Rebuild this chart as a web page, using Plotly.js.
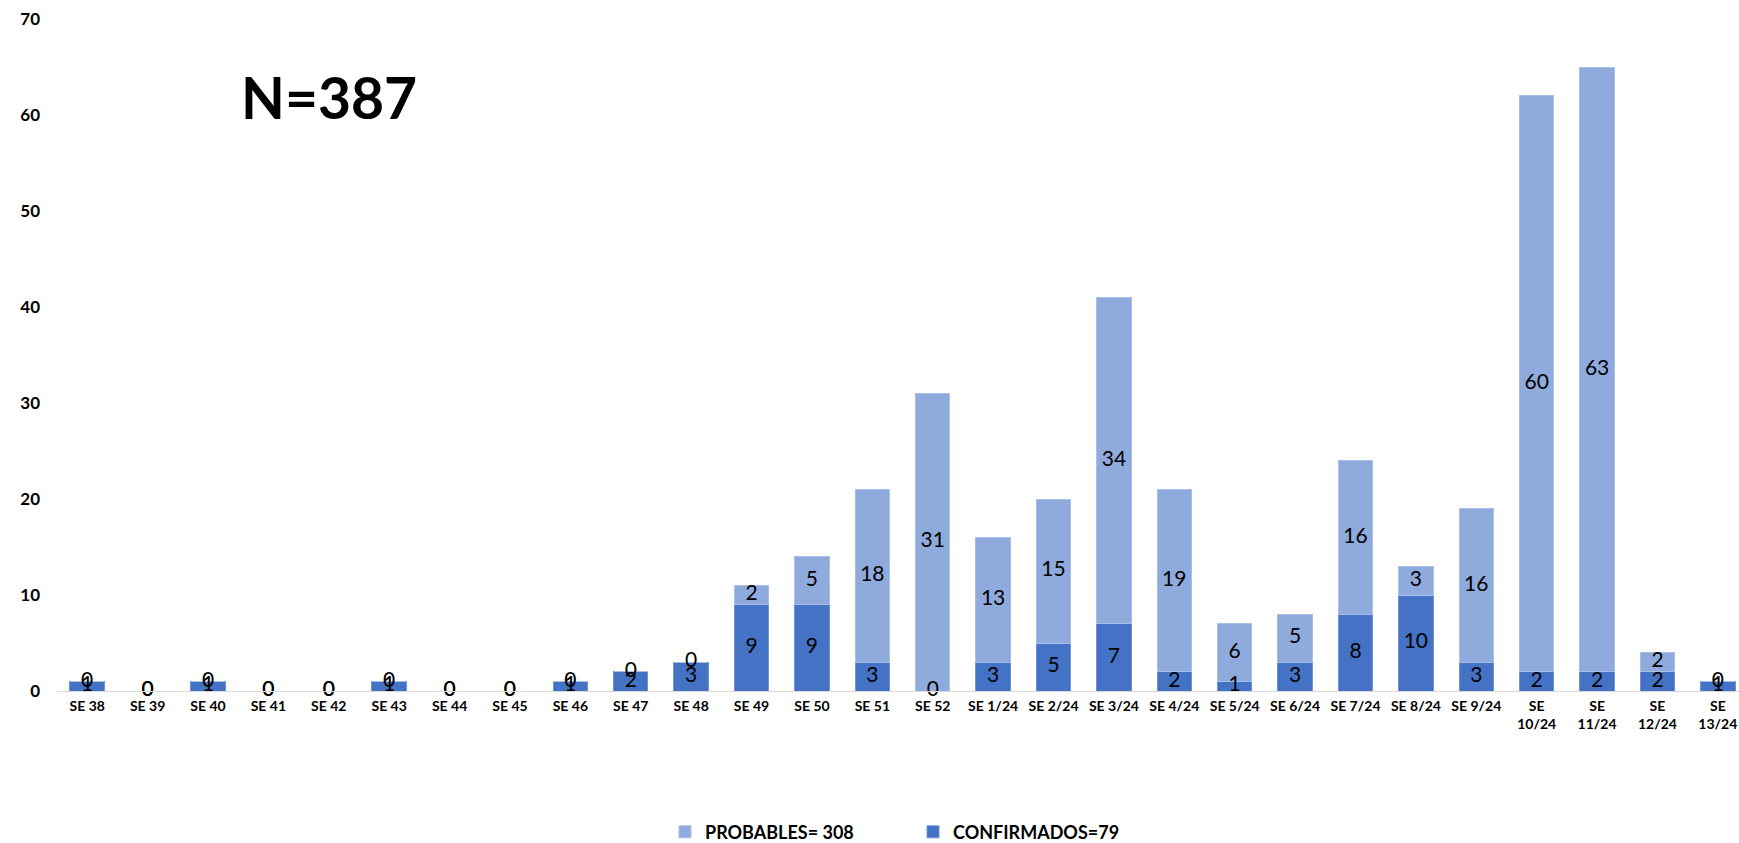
<!DOCTYPE html>
<html><head><meta charset="utf-8">
<script src="https://cdn.plot.ly/plotly-3.0.1.min.js"></script>
<style>html,body{margin:0;padding:0;background:#fff}#chart{width:1739px;height:843px}</style>
</head><body><div id="chart"></div>
<script>
const categories = ["SE 38","SE 39","SE 40","SE 41","SE 42","SE 43","SE 44","SE 45","SE 46","SE 47","SE 48","SE 49","SE 50","SE 51","SE 52","SE 1/24","SE 2/24","SE 3/24","SE 4/24","SE 5/24","SE 6/24","SE 7/24","SE 8/24","SE 9/24","SE<br>10/24","SE<br>11/24","SE<br>12/24","SE<br>13/24"];
const confirmados = [1,0,1,0,0,1,0,0,1,2,3,9,9,3,0,3,5,7,2,1,3,8,10,3,2,2,2,1];
const probables   = [0,0,0,0,0,0,0,0,0,0,0,2,5,18,31,13,15,34,19,6,5,16,3,16,60,63,2,0];
const yTicks = [0,10,20,30,40,50,60,70];
const totalN = 387;
const probName = "PROBABLES= 308";
const confName = "CONFIRMADOS=79";

const xs = categories.map((c,i)=>i);
const confMid = confirmados.map(v=>v/2);
const probMid = probables.map((v,i)=>confirmados[i]+v/2);
const FONT = 'Lato, "Liberation Sans", sans-serif';

const traces = [
  {type:'bar', x:xs, y:confirmados, name:confName, marker:{color:'#4472C4', line:{color:'#6F93D3', width:1}}, legendrank:2, hoverinfo:'y'},
  {type:'bar', x:xs, y:probables, name:probName, marker:{color:'#8FAADC', line:{color:'#A9BFE6', width:1}}, legendrank:1, hoverinfo:'y'},
  {type:'scatter', mode:'text', x:xs, y:probMid, text:probables.map(String), textposition:'middle center', textfont:{family:FONT, size:21, color:'#000'}, showlegend:false, hoverinfo:'skip', cliponaxis:false},
  {type:'scatter', mode:'text', x:xs, y:confMid, text:confirmados.map(String), textposition:'middle center', textfont:{family:FONT, size:21, color:'#000'}, showlegend:false, hoverinfo:'skip', cliponaxis:false}
];

const layout = {
  width:1739, height:843,
  margin:{l:57, r:0, t:19, b:152, autoexpand:false},
  paper_bgcolor:'#fff', plot_bgcolor:'#fff',
  barmode:'stack', bargap:0.43,
  showlegend:true,
  legend:{orientation:'h', traceorder:'normal', x:(665-57)/1682, xanchor:'left', y:-0.21, yanchor:'middle', font:{family:FONT, size:18, color:'#000', weight:'bold'}, itemwidth:30, entrywidth:203, entrywidthmode:'pixels'},
  xaxis:{range:[-0.5,27.35], automargin:false, tickmode:'array', tickvals:xs, ticktext:categories, tickangle:0, showgrid:false, zeroline:false, showline:true, linecolor:'#D9D9D9', linewidth:1, ticks:'', tickfont:{family:FONT, size:14, color:'#000', weight:'bold'}, ticklabelstandoff:2},
  yaxis:{range:[0,70], automargin:false, tickmode:'array', tickvals:yTicks, ticktext:yTicks.map(String), showgrid:false, zeroline:false, showline:false, ticks:'', tickfont:{family:FONT, size:17, color:'#000', weight:'bold'}, ticklabelstandoff:16},
  annotations:[{xref:'paper', yref:'paper', x:(329-57)/1682, y:(691-97)/672, xanchor:'center', yanchor:'middle', text:'N='+totalN, showarrow:false, font:{family:FONT, size:57, color:'#000', weight:'bold'}}]
};

Plotly.newPlot('chart', traces, layout, {staticPlot:true, displayModeBar:false});
</script>
</body></html>
